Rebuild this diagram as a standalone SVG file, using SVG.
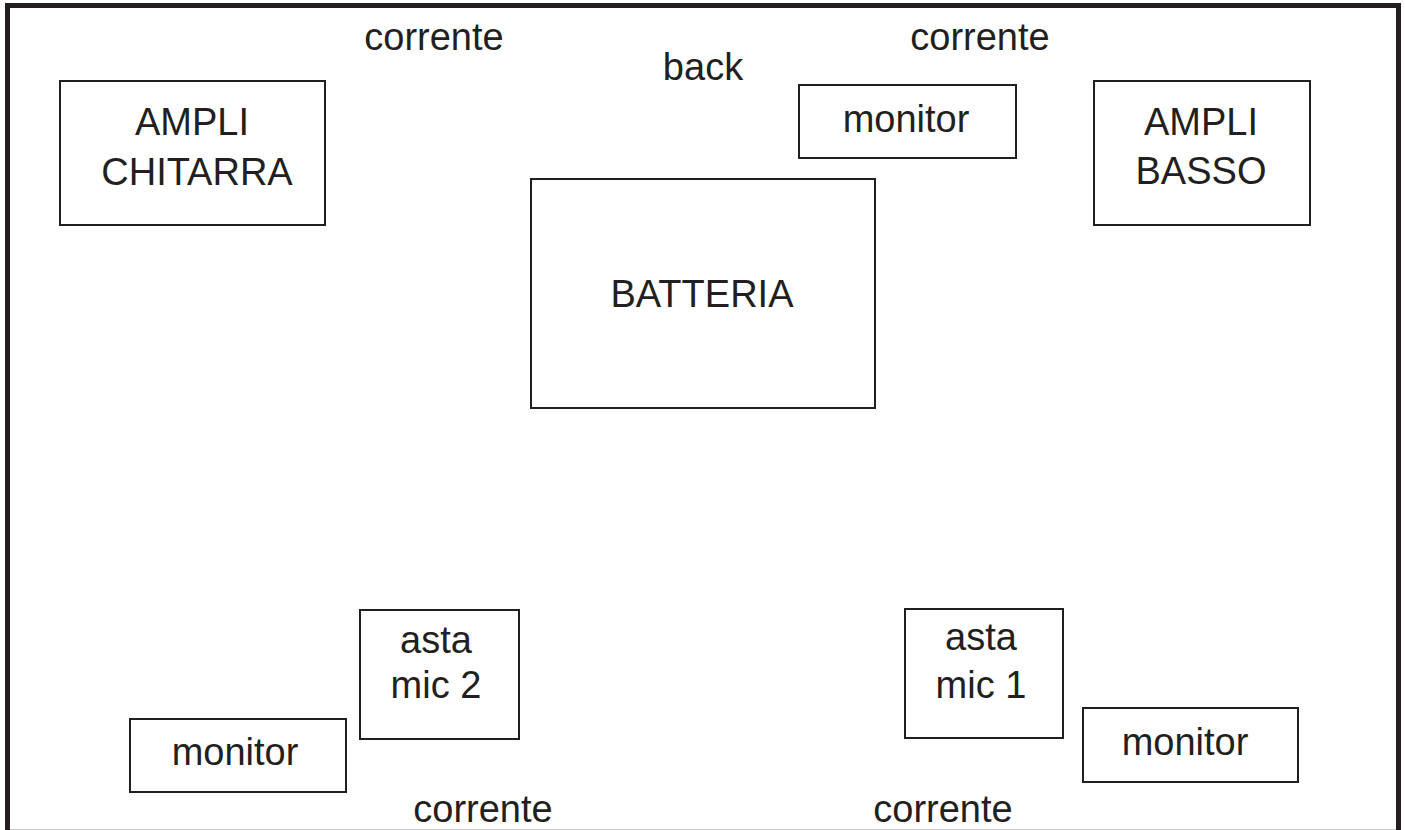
<svg xmlns="http://www.w3.org/2000/svg" width="1405" height="830" viewBox="0 0 1405 830">
<style>
.box{fill:#fff;stroke:#231f20;stroke-width:2}
.t{font-family:"Liberation Sans",Arial,Helvetica,sans-serif;font-size:38px;fill:#231f20;text-anchor:middle}
</style>
<rect x="0" y="0" width="1405" height="830" fill="#fff"/>
<g id="frame">
<path d="M7.5,830 V5.5 H1398.5 V830" fill="none" stroke="#231f20" stroke-width="5"/>
<line x1="10" y1="829.5" x2="1396" y2="829.5" stroke="#c8c8c8" stroke-width="1"/>
</g>
<g id="labels">
<text class="t" x="434" y="50">corrente</text>
<text class="t" x="980" y="50">corrente</text>
<text class="t" x="703" y="80">back</text>
<text class="t" x="483" y="822">corrente</text>
<text class="t" x="943" y="822">corrente</text>
</g>
<g id="ampli-chitarra">
<rect class="box" x="60" y="81" width="265" height="144"/>
<text class="t" x="192" y="135">AMPLI</text>
<text class="t" x="197" y="185">CHITARRA</text>
</g>
<g id="monitor-back">
<rect class="box" x="799" y="85" width="217" height="73"/>
<text class="t" x="906" y="132">monitor</text>
</g>
<g id="ampli-basso">
<rect class="box" x="1094" y="81" width="216" height="144"/>
<text class="t" x="1201" y="135">AMPLI</text>
<text class="t" x="1201" y="184">BASSO</text>
</g>
<g id="batteria">
<rect class="box" x="531" y="179" width="344" height="229"/>
<text class="t" x="702" y="307">BATTERIA</text>
</g>
<g id="asta-mic-2">
<rect class="box" x="360" y="610" width="159" height="129"/>
<text class="t" x="436" y="653">asta</text>
<text class="t" x="436" y="698">mic 2</text>
</g>
<g id="monitor-left">
<rect class="box" x="130" y="719" width="216" height="73"/>
<text class="t" x="235" y="765">monitor</text>
</g>
<g id="asta-mic-1">
<rect class="box" x="905" y="609" width="158" height="129"/>
<text class="t" x="981" y="650">asta</text>
<text class="t" x="981" y="698">mic 1</text>
</g>
<g id="monitor-right">
<rect class="box" x="1083" y="708" width="215" height="74"/>
<text class="t" x="1185" y="755">monitor</text>
</g>
<g id="connectors"></g>
</svg>
